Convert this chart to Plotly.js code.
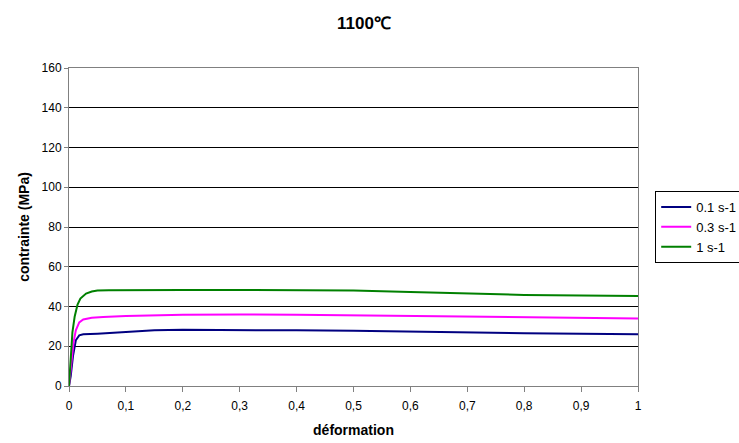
<!DOCTYPE html>
<html>
<head>
<meta charset="utf-8">
<script src="https://cdn.plot.ly/plotly-3.0.1.min.js"></script>
<style>html,body{margin:0;padding:0;background:#fff;}#chart{width:739px;height:443px;}</style>
</head>
<body>
<div id="chart"></div>
<script>
const seriesNames = ["0.1 s-1", "0.3 s-1", "1 s-1"];
const seriesColors = ["#000080", "#FF00FF", "#008000"];

const strain01 = [0, 0.003, 0.007, 0.012, 0.018, 0.025, 0.05, 0.1, 0.15, 0.2, 0.3, 0.4, 0.5, 0.6, 0.7, 0.8, 0.9, 1.0];
const stress01 = [0, 5, 15, 23, 25.5, 26, 26.3, 27.2, 28, 28.3, 28.3, 28, 27.8, 27.3, 27, 26.6, 26.3, 26];

const strain03 = [0, 0.004, 0.008, 0.012, 0.018, 0.025, 0.04, 0.06, 0.1, 0.2, 0.3, 0.4, 0.5, 0.6, 0.7, 0.8, 0.9, 1.0];
const stress03 = [0, 12, 22, 28, 32, 33.5, 34.3, 34.7, 35.2, 35.8, 36, 35.8, 35.5, 35.1, 34.8, 34.5, 34.2, 34];

const strain1 = [0, 0.003, 0.006, 0.01, 0.015, 0.02, 0.03, 0.04, 0.05, 0.07, 0.1, 0.2, 0.3, 0.4, 0.5, 0.6, 0.7, 0.8, 0.9, 1.0];
const stress1 = [0, 15, 27, 35, 41, 44, 46.5, 47.5, 48, 48.2, 48.3, 48.3, 48.3, 48.3, 48, 47.3, 46.5, 45.8, 45.5, 45.3];

const xs = [strain01, strain03, strain1];
const ys = [stress01, stress03, stress1];

const xTickVals = [0, 0.1, 0.2, 0.3, 0.4, 0.5, 0.6, 0.7, 0.8, 0.9, 1];
const xTickText = ["0", "0,1", "0,2", "0,3", "0,4", "0,5", "0,6", "0,7", "0,8", "0,9", "1"];
const yTickVals = [0, 20, 40, 60, 80, 100, 120, 140, 160];

const FONT = "Arial, 'Liberation Sans', sans-serif";

const traces = seriesNames.map((n, i) => ({
  x: xs[i], y: ys[i], name: n, type: "scatter", mode: "lines",
  line: {color: seriesColors[i], width: 2}
}));

const layout = {
  width: 739, height: 443,
  margin: {l: 69, r: 101, t: 68, b: 57},
  paper_bgcolor: "#fff", plot_bgcolor: "#fff",
  font: {family: FONT, size: 12, color: "#000"},
  title: {text: "1100℃", font: {family: FONT, size: 17, weight: "bold", color: "#000"},
          x: 0.456, xref: "container", xanchor: "left", y: 0.949, yanchor: "middle"},
  xaxis: {
    range: [0, 1], tickvals: xTickVals, ticktext: xTickText,
    showgrid: false, zeroline: false,
    showline: true, linecolor: "#808080", linewidth: 1, mirror: true,
    ticks: "outside", ticklen: 5, tickcolor: "#808080",
    tickfont: {size: 12}, ticklabelstandoff: 4,
    title: {text: "déformation", font: {size: 14, weight: "bold"}, standoff: 12}
  },
  yaxis: {
    range: [0, 160], tickvals: yTickVals,
    showgrid: true, gridcolor: "#000", gridwidth: 1, zeroline: false,
    showline: true, linecolor: "#808080", linewidth: 1, mirror: true,
    ticks: "outside", ticklen: 4, tickcolor: "#808080",
    tickfont: {size: 12},
    title: {text: "contrainte (MPa)", font: {size: 14, weight: "bold"}, standoff: 8}
  },
  legend: {
    xref: "container", yref: "container",
    x: 0.8866, xanchor: "left", y: 0.569, yanchor: "top",
    bordercolor: "#000", borderwidth: 1, bgcolor: "#fff",
    font: {size: 13}, tracegroupgap: 0, itemwidth: 30
  },
  showlegend: true
};

Plotly.newPlot("chart", traces, layout, {displayModeBar: false, staticPlot: true});
</script>
</body>
</html>
